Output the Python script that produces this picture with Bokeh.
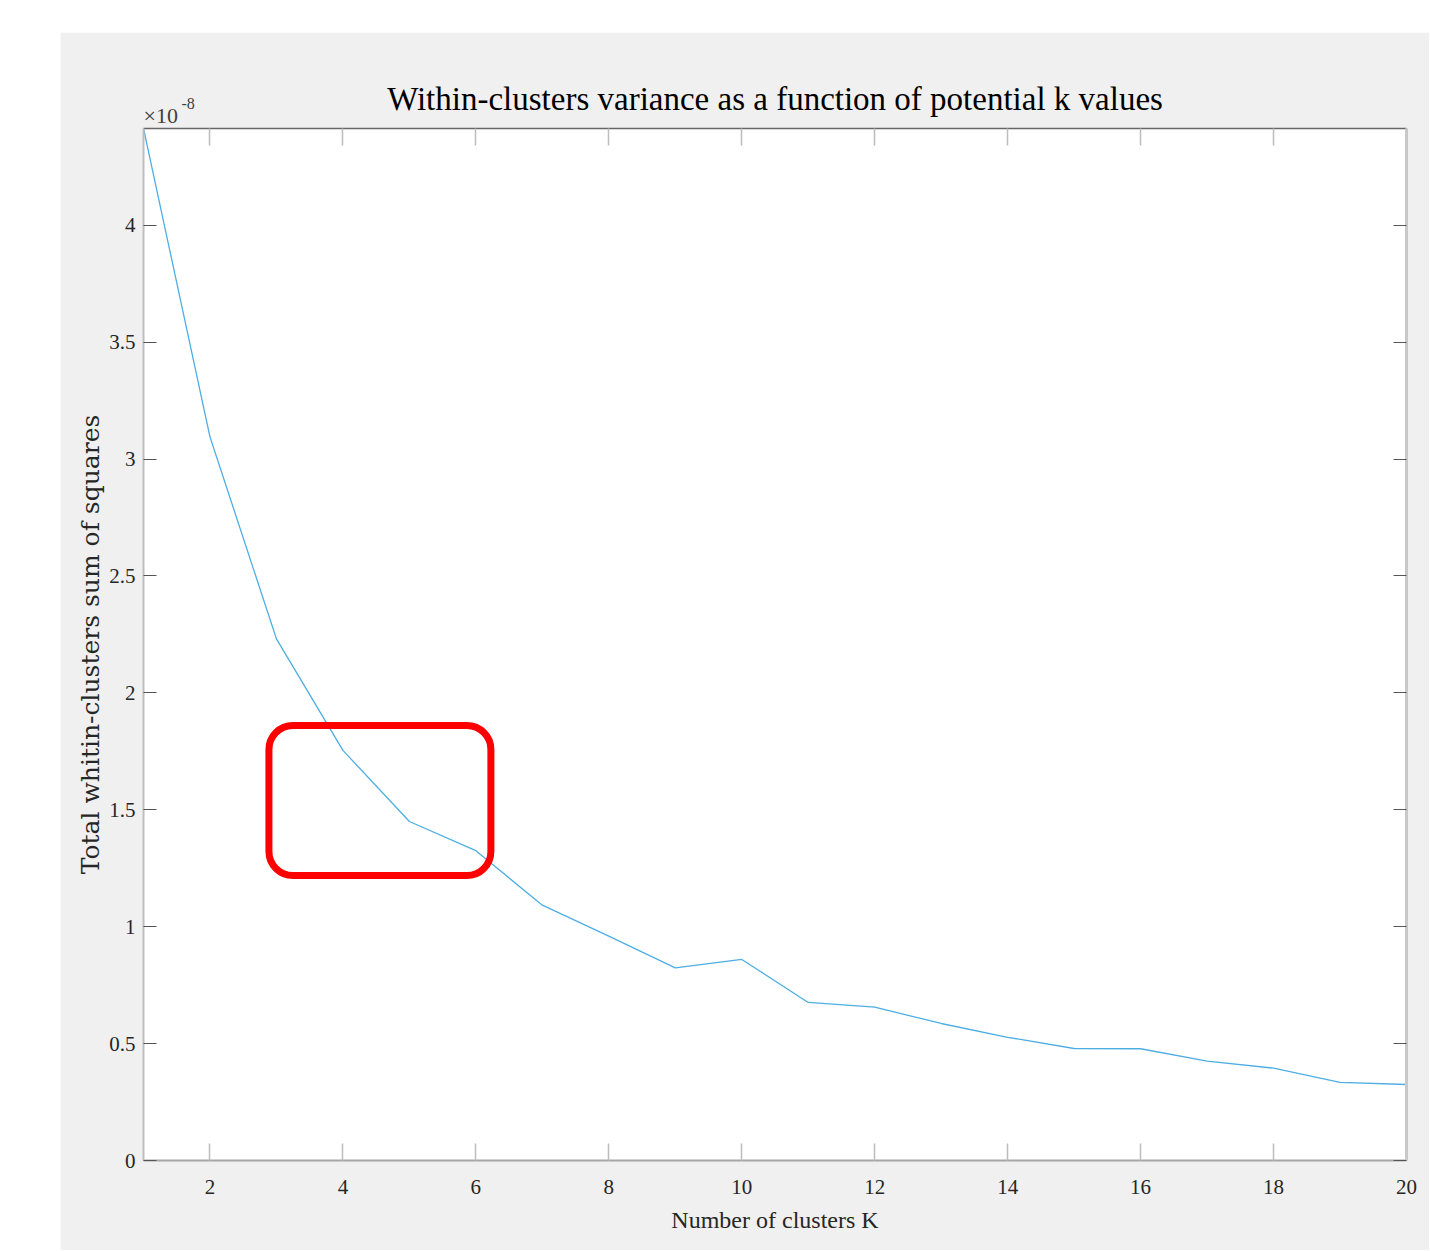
from bokeh.plotting import figure
from bokeh.models import (ColumnDataSource, FixedTicker, LinearAxis, Range1d,
                          Title, BoxAnnotation)
from bokeh.embed import file_html
from bokeh.resources import INLINE

# ---------------- data (values in units of 1e-8) ----------------
k_values = list(range(1, 21))
wcss = [4.414, 3.095, 2.231, 1.754, 1.450, 1.325, 1.092, 0.960, 0.824, 0.860,
        0.676, 0.656, 0.586, 0.527, 0.479, 0.478, 0.425, 0.395, 0.334, 0.325]
multiplier_text = "\u00d710"
exponent_text = "-8"
x_ticks = [2, 4, 6, 8, 10, 12, 14, 16, 18, 20]
y_ticks = [0, 0.5, 1, 1.5, 2, 2.5, 3, 3.5, 4]
y_tick_labels = ["0", "0.5", "1", "1.5", "2", "2.5", "3", "3.5", "4"]
x_limits = (1, 20)
y_limits = (0, 4.414)
# highlighted region (red rounded box) in data units
highlight = dict(left=2.887, right=6.226, top=1.861, bottom=1.219)

title_text = "Within-clusters variance as a function of potential k values"
x_label = "Number of clusters K"
y_label = "Total whitin-clusters sum of squares"

SERIF = "Liberation Serif"
GRAY_BG = "#f0f0f0"
TXT = "#262626"

p = figure(frame_width=1263, frame_height=1032,
           x_range=Range1d(*x_limits), y_range=Range1d(*y_limits),
           output_backend="svg", toolbar_location=None,
           min_border_left=83, min_border_right=23,
           min_border_top=96, min_border_bottom=90,
           background_fill_color="white", border_fill_color=GRAY_BG,
           outline_line_color=None)
p.margin = (32, 0, 0, 60)
p.title = None

p.grid.visible = False

# bottom axis
xa = p.xaxis[0]
xa.ticker = FixedTicker(ticks=x_ticks)
xa.minor_tick_line_color = None
xa.major_tick_in = 17
xa.major_tick_out = 0
xa.major_tick_line_color = "#bdbdbd"
xa.major_tick_line_width = 1.5
xa.axis_line_color = "#a6a6a6"
xa.axis_line_width = 2
xa.major_label_text_font = SERIF
xa.major_label_text_font_size = "21px"
xa.major_label_text_color = TXT
xa.major_label_standoff = 19
xa.axis_label = x_label
xa.axis_label_text_font = SERIF
xa.axis_label_text_font_size = "24px"
xa.axis_label_text_font_style = "normal"
xa.axis_label_text_color = TXT
xa.axis_label_standoff = 10

# left axis
ya = p.yaxis[0]
ya.ticker = FixedTicker(ticks=y_ticks)
ya.major_label_overrides = {t: s for t, s in zip(y_ticks, y_tick_labels)}
ya.minor_tick_line_color = None
ya.major_tick_in = 13
ya.major_tick_out = 0
ya.major_tick_line_color = "#555555"
ya.major_tick_line_width = 1.2
ya.axis_line_color = "#bdbdbd"
ya.axis_line_width = 2
ya.major_label_text_font = SERIF
ya.major_label_text_font_size = "21px"
ya.major_label_text_color = TXT
ya.major_label_standoff = 8
ya.axis_label = y_label
ya.axis_label_text_font = "DejaVu Serif"
ya.axis_label_text_font_size = "25px"
ya.axis_label_text_font_style = "normal"
ya.axis_label_text_color = TXT
ya.axis_label_standoff = 1

# top axis (box edge with inward ticks, no labels)
top_axis = LinearAxis(ticker=FixedTicker(ticks=x_ticks),
                      major_label_text_alpha=0, major_label_text_font_size="1px",
                      major_label_standoff=0,
                      major_tick_in=17, major_tick_out=0,
                      major_tick_line_color="#bdbdbd", major_tick_line_width=1.5,
                      minor_tick_line_color=None,
                      axis_line_color="#666666", axis_line_width=1.5)
p.add_layout(top_axis, "above")

# right axis (box edge with inward ticks, no labels)
right_axis = LinearAxis(ticker=FixedTicker(ticks=y_ticks),
                        major_label_text_alpha=0, major_label_text_font_size="1px",
                        major_label_standoff=0,
                        major_tick_in=13, major_tick_out=0,
                        major_tick_line_color="#555555", major_tick_line_width=1.2,
                        minor_tick_line_color=None,
                        axis_line_color="#c8c8c8", axis_line_width=3)
p.add_layout(right_axis, "right")

# exponent marker "x10^-8" (left) and main title (centered) above the frame
mult_title = Title(text=multiplier_text, align="left", text_font=SERIF,
                   text_font_size="22px", text_font_style="normal",
                   text_color="#404040", standoff=2)
p.add_layout(mult_title, "above")
exp_title = Title(text=exponent_text, align="left", offset=38, text_font=SERIF,
                  text_font_size="16px", text_font_style="normal",
                  text_color="#404040", standoff=-18)
p.add_layout(exp_title, "above")
main_title = Title(text=title_text, align="center", text_font=SERIF,
                   text_font_size="33px", text_font_style="normal",
                   text_color="black", standoff=-34)
p.add_layout(main_title, "above")

# the curve
src = ColumnDataSource(dict(k=k_values, v=wcss))
p.line("k", "v", source=src, line_color="#4DAEE3", line_width=1.3)

# red rounded highlight box
p.add_layout(BoxAnnotation(left=highlight["left"], right=highlight["right"],
                           top=highlight["top"], bottom=highlight["bottom"],
                           fill_alpha=0, line_color="#ff0000", line_alpha=1.0,
                           line_width=7, border_radius=24))

open("out.html", "w").write(file_html(p, INLINE))
